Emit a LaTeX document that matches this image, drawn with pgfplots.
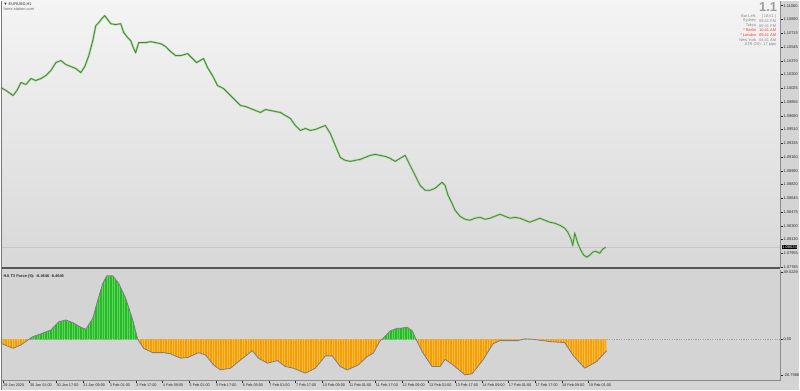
\documentclass[border=0pt]{standalone}
\usepackage{fontspec}
\setmainfont{Liberation Sans}
\usepackage{pgfplots}
\usepackage{pgfplotstable}
\pgfplotsset{compat=1.18}
\usetikzlibrary{patterns.meta}

\definecolor{bgtop}{HTML}{F4F4F4}
\definecolor{bgbot}{HTML}{D8D8D8}
\definecolor{panel}{HTML}{D4D4D4}
\definecolor{candle}{HTML}{3F8C30}
\definecolor{candlelight}{HTML}{A9CF9A}
\definecolor{posg}{HTML}{55DC55}
\definecolor{posgd}{HTML}{2EB52E}
\definecolor{nego}{HTML}{FFBA3A}
\definecolor{negod}{HTML}{F09E0C}
\definecolor{curve}{HTML}{7E7E7E}
\definecolor{txt}{HTML}{2A2A2A}
\definecolor{info}{HTML}{8A8A8A}
\definecolor{infobig}{HTML}{9C9C9C}
\definecolor{infored}{HTML}{F03C3C}
\definecolor{axisgray}{HTML}{8C8C8C}
\definecolor{sep}{HTML}{555555}

\pgfplotstableread{
h p
-1.2 1.10035
1.8 1.09998
6 1.09935
8.4 1.09998
10.8 1.10098
13.8 1.10073
16.8 1.10148
19.8 1.10123
22.8 1.10148
25.8 1.10185
28.8 1.10248
31.8 1.10348
34.8 1.10373
37.8 1.10323
40.8 1.10298
43.8 1.10273
46.8 1.10223
49.2 1.10298
51.6 1.10435
54 1.10623
55.8 1.10810
57.6 1.10848
59.4 1.10898
61.2 1.10935
63 1.10885
64.8 1.10835
67.8 1.10823
70.8 1.10835
72.6 1.10723
75 1.10660
76.8 1.10623
78.6 1.10523
79.8 1.10473
81.6 1.10598
85.8 1.10598
88.8 1.10610
91.8 1.10598
94.8 1.10585
97.8 1.10548
100.8 1.10485
103.8 1.10435
106.8 1.10435
111 1.10460
114 1.10398
116.4 1.10348
120.6 1.10398
123 1.10285
126 1.10185
129 1.10060
132.6 1.10023
135.6 1.09960
139.8 1.09873
142.8 1.09810
145.8 1.09798
148.8 1.09773
151.8 1.09748
154.8 1.09723
157.8 1.09760
160.8 1.09748
163.8 1.09735
166.8 1.09723
169.8 1.09685
172.8 1.09648
175.8 1.09560
178.8 1.09498
181.8 1.09523
184.8 1.09498
187.8 1.09510
190.8 1.09535
193.8 1.09560
196.8 1.09460
199.8 1.09310
202.8 1.09160
205.8 1.09123
208.8 1.09110
211.8 1.09123
214.8 1.09135
217.8 1.09160
220.8 1.09185
223.8 1.09198
226.8 1.09185
229.8 1.09173
232.8 1.09148
235.8 1.09110
238.8 1.09148
241.8 1.09185
244.8 1.09060
247.8 1.08935
250.8 1.08810
253.8 1.08748
256.8 1.08748
259.8 1.08773
264 1.08848
265.8 1.08810
267.6 1.08685
270 1.08585
271.8 1.08498
274.8 1.08423
277.8 1.08385
280.8 1.08373
283.8 1.08398
286.8 1.08410
289.8 1.08385
292.8 1.08398
295.8 1.08423
298.8 1.08448
301.8 1.08423
304.8 1.08398
307.8 1.08410
310.8 1.08398
313.8 1.08373
316.8 1.08348
319.8 1.08373
322.8 1.08398
325.8 1.08373
328.8 1.08348
331.8 1.08335
334.8 1.08310
337.8 1.08273
339.6 1.08223
341.4 1.08148
342.6 1.08060
343.8 1.08210
345.6 1.08085
347.4 1.07998
349.2 1.07935
351 1.07910
352.8 1.07935
354.6 1.07973
356.4 1.07985
358.8 1.07960
360.6 1.08010
362.4 1.08035
}\pricedata

\pgfplotstableread{
h v
-1.2 -3
6 -6.7
10.8 -4.2
15 -0.5
15.6 0
18 2
22.8 4
28.8 6.9
33.6 13
37.8 14.3
42 12.3
46.8 8.9
49.8 7.4
54 15.5
57 29
60 41.4
62.4 47
66 47
69.6 41.4
73.8 30.3
78 14.3
81 0
84.6 -6.7
90 -9.9
96.6 -9.9
100.8 -10.8
106.8 -14
111 -13.5
117.6 -9.9
121.8 -11.6
126.6 -19
130.8 -22.7
136.8 -21.4
142.8 -15.3
150 -8.4
153.6 -14
159 -17.7
165 -15.8
169.8 -20.2
174.6 -21.4
181.8 -25.1
187.8 -21.4
193.8 -12.3
198 -12.3
202.8 -20.2
207 -22.7
213.6 -19
219 -12.8
222.6 -10.3
226.8 -1
227.9 0
228.6 0.7
232.8 6.2
237 8.1
238.8 8.1
243 8.9
246 6.4
248.4 0
252 -9.1
258 -20.2
262.8 -20.2
265.8 -14.8
270.6 -19
277.8 -26.4
282 -25.6
288.6 -15.3
294.6 -3.4
298.8 -1
309.6 -1
313.8 0.3
318.6 0
328.8 -1.7
337.8 -2.5
342.6 -11.6
349.8 -21.4
357 -16.5
363 -8.4646
}\inddata

\begin{document}
\begin{tikzpicture}
\fill[panel] (0bp,0bp) rectangle (800bp,390bp);
\shade[top color=bgtop, bottom color=bgbot] (0bp,122bp) rectangle (781bp,390bp);

% ---------------- price panel
\begin{axis}[
  at={(0bp,122bp)}, anchor=south west,
  width=781bp, height=268bp, scale only axis,
  xmin=-1.2, xmax=467.4, ymin=1.07773, ymax=1.11123,
  clip=false,
  axis x line*=bottom, axis y line*=right,
  x axis line style={draw=sep, line width=1.6bp, -},
  y axis line style={draw=axisgray, line width=1.4bp, -},
  xtick=\empty,
  scaled y ticks=false,
  ytick={1.07785,1.07955,1.08130,1.08300,1.08475,1.08645,1.08820,1.08990,1.09160,1.09335,1.09510,1.09680,1.09855,1.10025,1.10200,1.10370,1.10545,1.10715,1.10890,1.11060},
  yticklabels={1.07785,1.07955,1.08130,1.08300,1.08475,1.08645,1.08820,1.08990,1.09160,1.09335,1.09510,1.09680,1.09855,1.10025,1.10200,1.10370,1.10545,1.10715,1.10890,1.11060},
  ytick pos=right, yticklabel pos=right,
  tick align=outside, major tick length=2.2bp,
  ytick style={draw=txt, line width=0.5bp},
  yticklabel style={font=\fontsize{4}{4}\selectfont, text=txt, inner sep=0.8bp},
  /pgf/number format/assume math mode=true,
]
\addplot[gray!45, line width=0.5bp] coordinates {(-1.2,1.08035) (467.4,1.08035)};
\addplot[candlelight, line width=2.0bp, line join=round] table[x=h,y=p] {\pricedata};
\addplot[candle, line width=0.75bp, line join=miter] table[x=h,y=p] {\pricedata};
\node[anchor=west, fill=black, text=white, font=\fontsize{4}{4}\selectfont, inner sep=0.7bp, xshift=1.2bp] at (axis cs:467.4,1.08035) {1.08033};
\end{axis}

% ---------------- indicator panel
\begin{axis}[
  at={(0bp,9bp)}, anchor=south west,
  width=781bp, height=111bp, scale only axis,
  xmin=-1.2, xmax=467.4, ymin=-30.8, ymax=51.2,
  axis x line*=bottom, axis y line*=right,
  x axis line style={draw=axisgray, line width=1.2bp, -},
  y axis line style={draw=axisgray, line width=1.4bp, -},
  xtick={0,16,32,48,64,80,96,112,128,144,160,176,192,208,224,240,256,272,288,304,320,336,352},
  xticklabels={29 Jan 2020,30 Jan 01:00,30 Jan 17:00,31 Jan 09:00,3 Feb 01:00,3 Feb 17:00,4 Feb 09:00,5 Feb 01:00,5 Feb 17:00,6 Feb 09:00,7 Feb 01:00,7 Feb 17:00,10 Feb 09:00,11 Feb 01:00,11 Feb 17:00,12 Feb 09:00,13 Feb 01:00,13 Feb 17:00,14 Feb 09:00,17 Feb 01:00,17 Feb 17:00,18 Feb 09:00,19 Feb 01:00},
  ytick={-26.7988,0,49.5229},
  yticklabels={-26.7988,0.00,49.5229},
  xtick pos=bottom, ytick pos=right, yticklabel pos=right,
  tick align=outside, major tick length=2.2bp,
  tick style={draw=txt, line width=0.5bp},
  xticklabel style={font=\fontsize{3.8}{4}\selectfont, text=txt, anchor=north west, inner sep=0.6bp, xshift=-0.4bp},
  yticklabel style={font=\fontsize{4}{4}\selectfont, text=txt, inner sep=0.8bp},
  /pgf/number format/assume math mode=true,
  hist/.style={draw=none, postaction={pattern={Lines[angle=90,distance=1.67bp,line width=0.6bp]}, pattern color=#1}},
]
\addplot[gray!75, line width=0.45bp, dash pattern=on 1.2bp off 1.2bp] coordinates {(-1.2,0) (467.4,0)};
% negative parts (orange)
\addplot[fill=nego, hist=negod, restrict x to domain=-1.2:15.6] table[x=h,y=v] {\inddata} \closedcycle;
\addplot[fill=nego, hist=negod, restrict x to domain=81:227.9] table[x=h,y=v] {\inddata} \closedcycle;
\addplot[fill=nego, hist=negod, restrict x to domain=248.4:363] table[x=h,y=v] {\inddata} \closedcycle;
% positive parts (green)
\addplot[fill=posg, hist=posgd, restrict x to domain=15.6:81] table[x=h,y=v] {\inddata} \closedcycle;
\addplot[fill=posg, hist=posgd, restrict x to domain=227.9:248.4] table[x=h,y=v] {\inddata} \closedcycle;
% outline
\addplot[curve, line width=0.8bp, line join=round] table[x=h,y=v] {\inddata};
\end{axis}

% frame bits
\draw[sep!80, line width=1.4bp] (0.7bp,0bp) -- (0.7bp,390bp);

% ---------------- texts
\node[anchor=west, inner sep=0, font=\fontsize{4}{4}\selectfont, text=txt] at (2.5bp,386bp) {▼ EURUSD,H1};
\node[anchor=west, inner sep=0, font=\fontsize{4}{4}\selectfont, text=txt!70] at (2.5bp,381.5bp) {forex-station.com};
\node[anchor=west, inner sep=0, font=\fontsize{4}{4}\selectfont\bfseries, text=txt] at (2.5bp,114bp) {HA T3 Force (5): -8.4646 -8.4646};

\node[anchor=north east, inner sep=0, font=\fontsize{13}{13}\selectfont\bfseries, text=infobig] at (778bp,388bp) {1.1};
\begin{scope}[every node/.style={inner sep=0, font=\fontsize{4}{4}\selectfont}]
\node[anchor=east, text=info] at (757bp,374.5bp) {Bar Left:};
\node[anchor=east, text=info] at (777bp,374.5bp) {[ 18:51 ]};
\node[anchor=east, text=info] at (757bp,369.7bp) {Sydney};
\node[anchor=east, text=info] at (777bp,369.7bp) {08:41 PM};
\node[anchor=east, text=info] at (757bp,365bp) {Tokyo};
\node[anchor=east, text=info] at (777bp,365bp) {06:41 PM};
\node[anchor=east, text=infored] at (757bp,360.2bp) {* Berlin};
\node[anchor=east, text=infored] at (777bp,360.2bp) {10:41 AM};
\node[anchor=east, text=infored] at (757bp,355.4bp) {* London};
\node[anchor=east, text=infored] at (777bp,355.4bp) {09:41 AM};
\node[anchor=east, text=info] at (757bp,350.6bp) {New York};
\node[anchor=east, text=info] at (777bp,350.6bp) {04:41 AM};
\node[anchor=east, text=info] at (777bp,345.8bp) {ATR (20): 17 pips};
\end{scope}
\end{tikzpicture}
\end{document}
